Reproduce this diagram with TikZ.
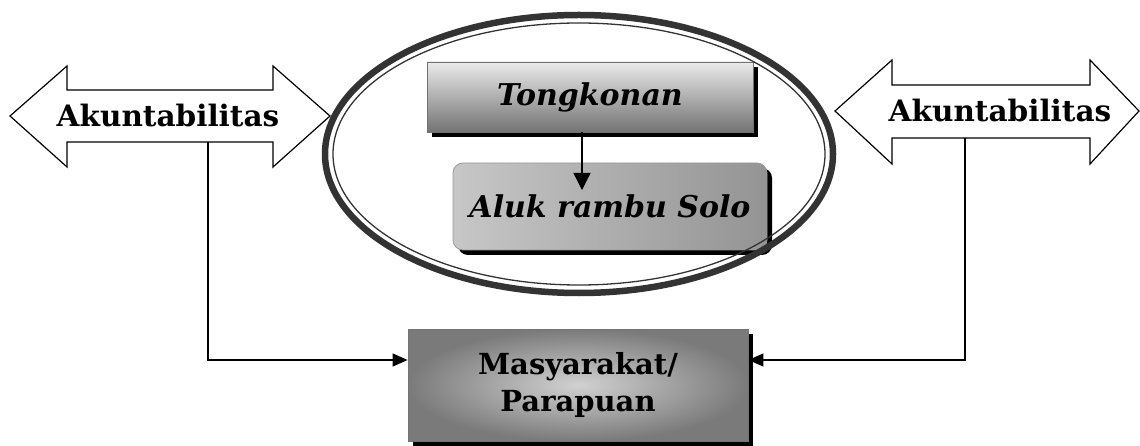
\documentclass[tikz,border=0pt]{standalone}
\usepackage{fontspec}
\setmainfont{DejaVu Serif}
\usetikzlibrary{arrows.meta,shadows,calc}

\tikzset{
  outline/.style={draw=black, line width=1.2pt, fill=white, line join=miter},
  bigtext/.style={font=\bfseries\fontsize{29.5}{33}\selectfont, inner sep=0pt},
  boxtext/.style={font=\bfseries\itshape\fontsize{30}{34}\selectfont},
  boxshadow/.style={drop shadow={shadow xshift=5pt, shadow yshift=-5pt, fill=black, opacity=1}},
  link/.style={draw=black, line width=1.3pt},
  tip/.style={-{Triangle[length=15pt,width=13pt]}},
}

\begin{document}
\begin{tikzpicture}[x=1pt,y=-1pt]
\useasboundingbox (0,0) rectangle (1140,446);

% left double arrow
\draw[outline] (10,116) -- (67,66) -- (67,90) -- (273,90) -- (273,66) -- (330,116)
  -- (273,167) -- (273,142) -- (67,142) -- (67,167) -- cycle;
\node[bigtext] (akl) at (168,116) {Akuntabilitas};
\coordinate (lstem) at (208,142);

% right double arrow
\draw[outline] (835,111) -- (892,60) -- (892,85) -- (1090,85) -- (1090,60) -- (1139,111)
  -- (1090,164) -- (1090,138) -- (892,138) -- (892,164) -- cycle;
\node[bigtext] (akr) at (1000,111) {Akuntabilitas};
\coordinate (rstem) at (965,138);

% boxes inside the ring
\node[boxshadow, draw=black!55, line width=0.8pt, top color=black!8, bottom color=black!55,
      minimum width=326pt, minimum height=70pt, inner sep=0pt,
      boxtext] (tong) at (590,97) {Tongkonan};
\node[boxshadow, draw=black!40, line width=0.8pt, rounded corners=10pt,
      left color=black!22, right color=black!42,
      minimum width=314pt, minimum height=87pt, inner sep=0pt,
      boxtext] (aluk) at (610,206.5) {Aluk rambu Solo};
\coordinate (alukin) at (582,190);
\draw[link, -{Triangle[length=17pt,width=17pt]}] (tong.south -| alukin) -- (alukin);

% ring
\draw[line width=6.5pt, draw=black!80] (579,154) ellipse [x radius=254, y radius=139];
\draw[line width=1.3pt, draw=black!80] (579,154) ellipse [x radius=246, y radius=131];

% community box
\node[boxshadow, draw=black!55, line width=0.8pt, inner color=black!18, outer color=black!52,
      minimum width=340pt, minimum height=112pt, inner sep=0pt, align=center,
      font=\bfseries\fontsize{29}{37}\selectfont] (masy) at (578,385) {Masyarakat/\\Parapuan};

% accountability links
\draw[link, tip] (lstem) |- ($(masy.west)+(0,-25)$);
\draw[link, tip] (rstem) |- ($(masy.east)+(0,-25)$);
\end{tikzpicture}
\end{document}
